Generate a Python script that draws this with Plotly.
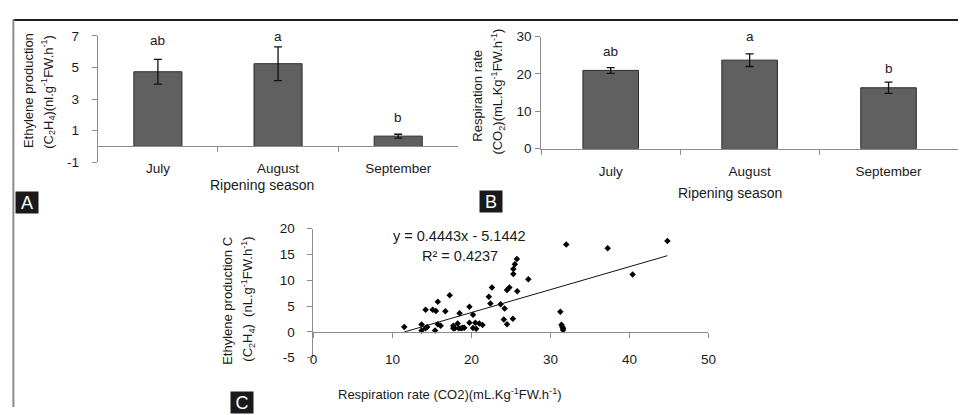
import plotly.graph_objects as go

# ---------------- data ----------------
months = ["July", "August", "September"]

ethylene_mean = [4.73, 5.24, 0.65]
ethylene_err = [0.79, 1.07, 0.12]
ethylene_sig = ["ab", "a", "b"]

resp_mean = [20.95, 23.7, 16.3]
resp_err = [0.77, 1.7, 1.5]
resp_sig = ["ab", "a", "b"]

scatter_x = [11.5, 13.7, 13.7, 14.2, 14.2, 14.4, 15.1, 15.5, 15.4, 15.75, 15.75, 16.1,
             16.7, 17.25, 17.7, 17.7, 17.9, 18.25, 18.5, 18.4, 18.7, 18.9, 19.1, 19.75,
             19.75, 20.2, 20.2, 20.6, 20.5, 21.0, 21.4, 22.2, 22.6, 22.4, 23.7, 24.2,
             24.1, 24.5, 24.5, 24.8, 25.25, 25.3, 25.3, 25.5, 25.75, 25.8, 27.2, 31.25,
             31.4, 31.5, 31.6, 31.6, 32.0, 37.25, 40.4, 44.8]
scatter_y = [0.93, 1.43, 0.25, 4.3, 0.7, 0.93, 4.3, 4.05, 0.25, 5.85, 1.45, 1.2,
             4.0, 7.1, 1.2, 0.7, 0.7, 1.6, 3.6, 0.7, 0.7, 0.8, 0.8, 4.86,
             1.75, 3.3, 0.75, 0.6, 1.75, 1.6, 1.3, 6.8, 8.6, 5.5, 5.35, 4.5,
             2.4, 1.45, 8.1, 8.6, 2.55, 11.2, 12.2, 13.1, 14.1, 7.85, 10.2, 3.87,
             1.35, 1.0, 0.7, 0.35, 16.95, 16.2, 11.1, 17.6]

trend_slope = 0.4443
trend_intercept = -5.1442
eq_text = "y = 0.4443x - 5.1442"
r2_text = "R² = 0.4237"

yticksA = [-1, 1, 3, 5, 7]
yticksB = [0, 10, 20, 30]
yticksC = [-5, 0, 5, 10, 15, 20]
xticksC = [0, 10, 20, 30, 40, 50]

# ---------------- layout helpers ----------------
W, H = 966, 415
FONT = "Liberation Sans, Arial, sans-serif"
TXT = "#1a1a1a"
AX = "#8c8c8c"


def pxx(x):
    return x / W


def pxy(y):
    return 1 - y / H


domA_x = [pxx(95), pxx(460)]
domA_y = [pxy(161), pxy(30)]
domB_x = [pxx(544), pxx(966)]
domB_y = [pxy(147), pxy(30.7)]
domC_x = [pxx(313.3), pxx(713.3)]
domC_y = [pxy(363.75), pxy(230)]

rangeA = [yticksA[0], yticksA[-1]]
rangeB = [yticksB[0], yticksB[-1]]
rangeC = [yticksC[0], yticksC[-1]]
posA = domA_y[0] + (0 - rangeA[0]) / (rangeA[1] - rangeA[0]) * (domA_y[1] - domA_y[0])
posC = domC_y[0] + (0 - rangeC[0]) / (rangeC[1] - rangeC[0]) * (domC_y[1] - domC_y[0])

bar_marker = dict(color="#606060", line=dict(color="#2a2a2a", width=1))

fig = go.Figure()

fig.add_trace(go.Bar(
    x=months, y=ethylene_mean, width=0.4, marker=bar_marker,
    error_y=dict(type="data", array=ethylene_err, color="#111111", thickness=1.3, width=4),
    xaxis="x", yaxis="y", showlegend=False, hoverinfo="skip"))

fig.add_trace(go.Bar(
    x=months, y=resp_mean, width=0.4, marker=bar_marker,
    error_y=dict(type="data", array=resp_err, color="#111111", thickness=1.3, width=4),
    xaxis="x2", yaxis="y2", showlegend=False, hoverinfo="skip"))

fig.add_trace(go.Scatter(
    x=scatter_x, y=scatter_y, mode="markers",
    marker=dict(symbol="diamond", size=5, color="#000000"),
    xaxis="x3", yaxis="y3", showlegend=False, hoverinfo="skip"))

tx = [min(scatter_x), max(scatter_x)]
ty = [trend_slope * v + trend_intercept for v in tx]
fig.add_trace(go.Scatter(
    x=tx, y=ty, mode="lines", line=dict(color="#111111", width=1),
    xaxis="x3", yaxis="y3", showlegend=False, hoverinfo="skip"))

# invisible helper so the frame axis (x4) is drawn
fig.add_trace(go.Scatter(
    x=[0, 1], y=[0, 0], mode="markers", marker=dict(opacity=0),
    xaxis="x4", yaxis="y", showlegend=False, hoverinfo="skip"))

tickfont = dict(family=FONT, size=13.5, color=TXT)

common_cat = dict(type="category", range=[-0.5, 2.5], showline=True, linecolor=AX,
                  linewidth=1, ticks="outside", tickson="boundaries", ticklen=5,
                  tickcolor=AX, showgrid=False, zeroline=False, tickfont=tickfont,
                  categoryorder="array", categoryarray=months)

common_y = dict(showline=True, linecolor=AX, linewidth=1, ticks="outside", ticklen=5,
                tickcolor=AX, showgrid=False, zeroline=False, tickfont=tickfont,
                tickmode="array")

fig.update_layout(
    width=W, height=H, margin=dict(l=0, r=0, t=0, b=0),
    paper_bgcolor="white", plot_bgcolor="rgba(0,0,0,0)",
    font=dict(family=FONT, color=TXT),
    bargap=0.6,
    xaxis=dict(domain=domA_x, anchor="free", position=posA, ticklabelstandoff=9, **common_cat),
    yaxis=dict(domain=domA_y, anchor="x", range=rangeA, tickvals=yticksA,
               ticktext=[str(v) for v in yticksA], ticklabelstandoff=10, **common_y),
    xaxis2=dict(domain=domB_x, anchor="y2", ticklabelstandoff=10, **common_cat),
    yaxis2=dict(domain=domB_y, anchor="x2", range=rangeB, tickvals=yticksB,
                ticktext=[str(v) for v in yticksB], ticklabelstandoff=1, **common_y),
    xaxis3=dict(domain=domC_x, anchor="free", position=posC, range=[xticksC[0], xticksC[-1]],
                tickmode="array", tickvals=xticksC, ticktext=[str(v) for v in xticksC],
                showline=True, linecolor=AX, linewidth=1, ticks="outside", ticklen=5,
                tickcolor=AX, showgrid=False, zeroline=False, tickfont=tickfont,
                ticklabelstandoff=10),
    yaxis3=dict(domain=domC_y, anchor="x3", range=rangeC, tickvals=yticksC,
                ticktext=[str(v) for v in yticksC], ticklabelstandoff=10, **common_y),
    # top rule of the composite frame, drawn as a bare axis line
    xaxis4=dict(domain=[pxx(9), 1], anchor="free", position=pxy(13.5), range=[0, 1],
                showline=True, linecolor="#1e1e1e", linewidth=2, ticks="",
                showticklabels=False, showgrid=False, zeroline=False),
)

ann = []


def txt(x, y, s, size=13.5, angle=0, **kw):
    d = dict(x=pxx(x), y=pxy(y), xref="paper", yref="paper", text=s, showarrow=False,
             textangle=angle, font=dict(family=FONT, size=size, color=TXT),
             xanchor="center", yanchor="middle")
    d.update(kw)
    ann.append(d)


# significance letters
for m, v, e, s, sh in zip(months, ethylene_mean, ethylene_err, ethylene_sig, [9, 1, 7]):
    ann.append(dict(x=m, y=v + e, xref="x", yref="y", text=s, showarrow=False,
                    yanchor="bottom", yshift=sh, font=dict(family=FONT, size=13.5, color=TXT)))
for m, v, e, s, sh in zip(months, resp_mean, resp_err, resp_sig, [7, 7.5, 4]):
    ann.append(dict(x=m, y=v + e, xref="x2", yref="y2", text=s, showarrow=False,
                    yanchor="bottom", yshift=sh, font=dict(family=FONT, size=13.5, color=TXT)))

# axis titles
txt(25, 86.5, "Ethylene production", 13, -90)
txt(45, 87.5, "(C<sub>2</sub>H<sub>4</sub>)(nl.g<sup>-1</sup>FW.h<sup>-1</sup>)", 13, -90)
txt(261.7, 185, "Ripening season", 14)

txt(480, 92, "Respiration rate", 13, -90)
txt(500, 88, "(CO<sub>2</sub>)(mL.Kg<sup>-1</sup>FW.h<sup>-1</sup>)", 13, -90)
txt(735, 192.7, "Ripening season", 14)

txt(226.7, 305, "Ethylene production C", 13, -90)
txt(246.7, 303, "(C<sub>2</sub>H<sub>4</sub>)  (nL.g<sup>-1</sup>FW.h<sup>-1</sup>)", 13, -90)
txt(451.7, 401.7, "Respiration rate (CO2)(mL.Kg<sup>-1</sup>FW.h<sup>-1</sup>)", 13)

# regression text
txt(461, 238, eq_text, 14.5)
txt(461.7, 258.7, r2_text, 14.5)

# panel letters
for lx, ly, lt in [(23, 202.5, "A"), (493.5, 202, "B"), (240.8, 410, "C")]:
    ann.append(dict(x=pxx(lx), y=pxy(ly), xref="paper", yref="paper", text=lt,
                    showarrow=False, bgcolor="#1a1a1a", width=20, height=19,
                    font=dict(family=FONT, size=18, color="white"),
                    xanchor="center", yanchor="middle"))

fig.update_layout(annotations=ann)

# left rule of the composite frame
fig.add_shape(type="rect", xref="paper", yref="paper", layer="above",
              x0=pxx(8.5), x1=pxx(10.5), y0=0, y1=pxy(12.5),
              fillcolor="#8a8a8a", line=dict(width=0))

fig.write_html("out.html", config={"displayModeBar": False})

# remove the default page margin so the figure sits at the window's top-left corner
with open("out.html", "r", encoding="utf-8") as f:
    html = f.read()
html = html.replace("<head>", "<head><style>html,body{margin:0;padding:0;overflow:hidden;}</style>", 1)
with open("out.html", "w", encoding="utf-8") as f:
    f.write(html)
